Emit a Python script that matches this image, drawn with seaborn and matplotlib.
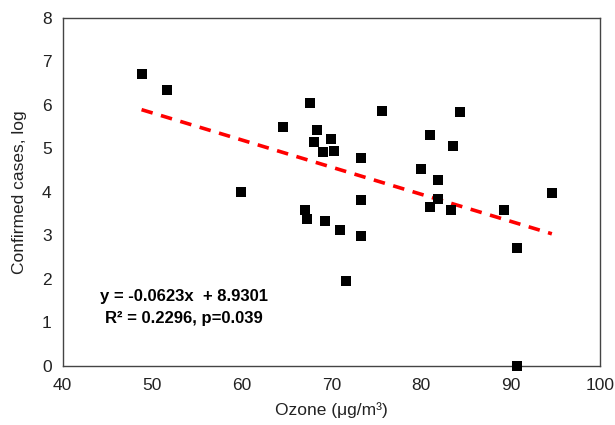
import matplotlib
matplotlib.use("Agg")
import matplotlib.pyplot as plt
import seaborn as sns
import pandas as pd
import numpy as np

ozone = [48.8, 51.6, 59.9, 64.6, 67.6, 67.0, 67.3, 68.4, 68.0, 69.0, 70.0, 70.3,
         69.3, 71.0, 71.6, 73.3, 73.3, 73.3, 75.6, 80.0, 81.0, 81.0, 81.9, 81.9,
         83.6, 84.3, 83.3, 89.3, 90.7, 90.7, 94.6]
cases = [6.70, 6.35, 3.99, 5.48, 6.04, 3.59, 3.38, 5.43, 5.15, 4.92, 5.21, 4.95,
         3.32, 3.12, 1.95, 4.77, 3.81, 2.99, 5.87, 4.52, 5.30, 3.65, 4.27, 3.83,
         5.05, 5.83, 3.59, 3.59, 2.70, 0.00, 3.97]
slope = -0.0623
intercept = 8.9301
x_ticks = [40, 50, 60, 70, 80, 90, 100]
y_ticks = [0, 1, 2, 3, 4, 5, 6, 7, 8]

sns.set_theme(style="white")
plt.rcParams['font.family'] = ['Liberation Sans', 'DejaVu Sans']

df = pd.DataFrame({"ozone": ozone, "cases": cases})
fig = plt.figure(figsize=(6.15, 4.25), dpi=100)
ax = fig.add_axes([0.102, 0.139, 0.874, 0.819])

xl = np.array([min(ozone), max(ozone)])
fit = pd.DataFrame({"x": xl, "y": slope * xl + intercept})
sns.lineplot(data=fit, x="x", y="y", ax=ax, color="#ff0000", lw=2.6,
             dashes=False, zorder=2)
ax.lines[-1].set_dashes([3.2, 2.4])

sns.scatterplot(data=df, x="ozone", y="cases", ax=ax, marker="s", s=52,
                color="black", edgecolor="black", linewidth=0, zorder=3,
                clip_on=False)

ax.set_xlim(40, 100)
ax.set_ylim(0, 8)
ax.set_xticks(x_ticks)
ax.set_yticks(y_ticks)
ax.tick_params(axis="both", labelsize=12.5, length=0, colors="#222222")
ax.tick_params(axis="x", pad=9)
ax.tick_params(axis="y", pad=8)
for s in ax.spines.values():
    s.set_color("#444444")
    s.set_linewidth(1.0)
ax.set_xlabel("Ozone (μg/m³)", fontsize=12.5, color="#222222", labelpad=6)
ax.set_ylabel("Confirmed cases, log", fontsize=12.5, color="#222222", labelpad=11)

ax.text(53.5, 1.6, "y = -0.0623x  + 8.9301", ha="center", va="center",
        fontsize=12, fontweight="bold", color="black")
ax.text(53.5, 1.1, "R² = 0.2296, p=0.039", ha="center", va="center",
        fontsize=12, fontweight="bold", color="black")

fig.savefig("out.png", dpi=100)
